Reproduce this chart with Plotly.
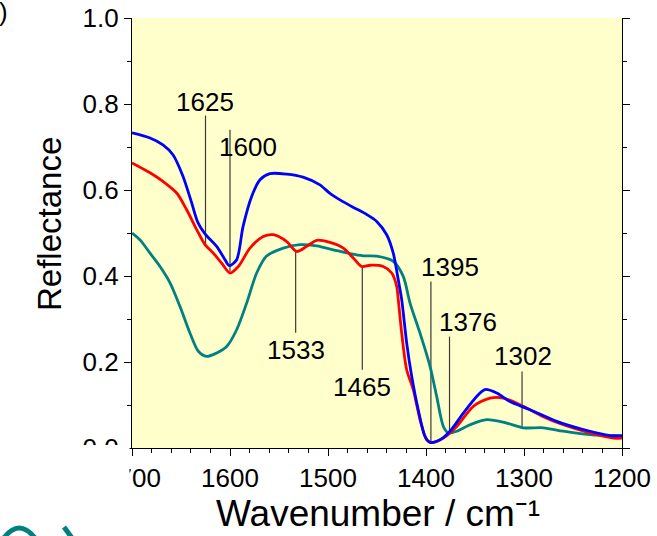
import plotly.graph_objects as go

# Reflectance spectra (wavenumber in cm^-1, reflectance 0-1)
wn_blue = [1700, 1681.6, 1668.4, 1658.2, 1648.0, 1639.1, 1632.7, 1625.5, 1613.6, 1605.1,
           1600.7, 1593.2, 1586.7, 1577.9, 1569.4, 1559.2, 1542.1, 1525.5, 1508.2, 1498.0,
           1487.8, 1474.5, 1460.5, 1450.3, 1440.1, 1433.4, 1428.3, 1424.8, 1419.7, 1414.6,
           1407.9, 1401.0, 1395.9, 1385.7, 1375.5, 1361.9, 1348.3, 1339.8, 1327.9, 1314.3,
           1293.9, 1266.6, 1239.5, 1212.2, 1200]
r_blue = [0.733, 0.721, 0.705, 0.682, 0.632, 0.570, 0.524, 0.498, 0.469, 0.438,
          0.424, 0.438, 0.515, 0.585, 0.624, 0.638, 0.637, 0.630, 0.612, 0.592,
          0.577, 0.560, 0.543, 0.527, 0.496, 0.453, 0.391, 0.345, 0.244, 0.167,
          0.089, 0.027, 0.013, 0.019, 0.039, 0.081, 0.120, 0.136, 0.128, 0.108,
          0.089, 0.062, 0.043, 0.029, 0.029]

wn_red = [1700, 1681.6, 1668.4, 1654.4, 1644.2, 1634.0, 1625.5, 1617.0, 1608.5, 1600.0,
          1591.5, 1579.6, 1566.0, 1555.8, 1542.1, 1532.0, 1521.7, 1511.5, 1498.0, 1484.4,
          1474.2, 1465.6, 1457.1, 1443.6, 1435.0, 1429.9, 1428.3, 1424.8, 1419.7, 1413.0,
          1406.1, 1399.3, 1394.2, 1382.3, 1368.7, 1351.7, 1334.7, 1321.1, 1300.7, 1280.3,
          1259.9, 1232.7, 1208.9, 1200]
r_red = [0.663, 0.640, 0.620, 0.593, 0.554, 0.508, 0.473, 0.453, 0.430, 0.407,
         0.422, 0.465, 0.492, 0.496, 0.480, 0.457, 0.469, 0.483, 0.478, 0.465,
         0.442, 0.422, 0.425, 0.422, 0.407, 0.376, 0.345, 0.267, 0.182, 0.136,
         0.066, 0.019, 0.013, 0.023, 0.050, 0.097, 0.116, 0.116, 0.097, 0.073,
         0.054, 0.035, 0.023, 0.023]

wn_teal = [1700, 1691.8, 1681.6, 1671.4, 1661.2, 1651.0, 1640.8, 1632.3, 1623.8, 1613.6,
           1603.4, 1593.2, 1583.0, 1572.8, 1562.9, 1545.6, 1528.6, 1511.5, 1494.6, 1477.6,
           1464.0, 1450.3, 1433.4, 1423.2, 1416.3, 1406.1, 1395.9, 1389.1, 1382.3, 1377.2,
           1368.7, 1355.1, 1338.1, 1317.7, 1300.7, 1280.3, 1259.9, 1232.7, 1200]
r_teal = [0.500, 0.484, 0.453, 0.422, 0.384, 0.329, 0.267, 0.225, 0.213, 0.221,
          0.236, 0.275, 0.337, 0.407, 0.446, 0.465, 0.473, 0.470, 0.461, 0.452,
          0.447, 0.446, 0.434, 0.399, 0.337, 0.267, 0.190, 0.120, 0.050, 0.035,
          0.039, 0.054, 0.066, 0.058, 0.047, 0.047, 0.039, 0.031, 0.027]

# Band assignments: label, text position (wn, R), leader line (R top, R bottom)
band_labels = ["1625", "1600", "1533", "1465", "1395", "1376", "1302"]
band_wn = [1625, 1600, 1533, 1465, 1395, 1376, 1302]
text_wn = [1625.5, 1581.6, 1533, 1465, 1375.5, 1357.1, 1301]
text_r = [0.805, 0.701, 0.229, 0.143, 0.422, 0.292, 0.213]
line_top = [0.773, 0.740, 0.457, 0.422, 0.387, 0.259, 0.178]
line_bot = [0.469, 0.411, 0.268, 0.182, 0.015, 0.036, 0.047]

x_ticks = [1700, 1600, 1500, 1400, 1300, 1200]
y_ticks = [0.0, 0.2, 0.4, 0.6, 0.8, 1.0]

W, H = 657, 536
L, R, T, B = 132, 35, 18, 88
PW, PH = W - L - R, H - T - B
FONT = "Liberation Sans, Arial, sans-serif"


def px(x):
    return (x - L) / PW


def py(y):
    return (H - B - y) / PH


fig = go.Figure()
for xs, ys, col in [(wn_teal, r_teal, "#008080"),
                    (wn_red, r_red, "#ff0000"),
                    (wn_blue, r_blue, "#0000ff")]:
    fig.add_trace(go.Scatter(x=xs, y=ys, mode="lines",
                             line=dict(color=col, width=2.8, shape="spline", smoothing=0.8),
                             showlegend=False, hoverinfo="skip"))

# Band pointer lines (drawn beneath the spectra)
for wn, y0, y1 in zip(band_wn, line_top, line_bot):
    fig.add_shape(type="line", x0=wn, x1=wn, y0=y0, y1=y1, xref="x", yref="y",
                  line=dict(color="#3a3a3a", width=1.2), layer="below")

for lab, tx, ty in zip(band_labels, text_wn, text_r):
    fig.add_annotation(x=tx, y=ty, xref="x", yref="y", text=lab, showarrow=False,
                       font=dict(size=26, color="black", family=FONT),
                       xanchor="center", yanchor="middle")

# Axis titles
fig.add_annotation(x=px(49), y=py(224), xref="paper", yref="paper", text="Reflectance",
                   textangle=-90, showarrow=False, xanchor="center", yanchor="middle",
                   font=dict(size=33, color="black", family=FONT))
fig.add_annotation(x=px(378), y=py(513), xref="paper", yref="paper",
                   text="Wavenumber / cm\u207b\u00b9", showarrow=False,
                   xanchor="center", yanchor="middle",
                   font=dict(size=37, color="black", family=FONT))

# Panel letter at the top-left corner
fig.add_annotation(x=px(10), y=py(12), xref="paper", yref="paper", text="(b)",
                   showarrow=False, xanchor="right", yanchor="middle",
                   font=dict(size=26, color="black", family=FONT))

# White block over the lower-left corner
fig.add_shape(type="rect", xref="paper", yref="paper", x0=px(-5), x1=px(129.5),
              y0=py(445), y1=py(497), fillcolor="white", line=dict(width=0), layer="above")

# Teal emblem fragment at the bottom-left edge
fig.add_shape(type="path", xref="paper", yref="paper",
              path=f"M {px(1)},{py(542)} Q {px(19)},{py(514)} {px(38)},{py(542)}",
              line=dict(color="#008080", width=5), layer="above")
fig.add_shape(type="line", xref="paper", yref="paper", x0=px(64), y0=py(527),
              x1=px(72), y1=py(538), line=dict(color="#008080", width=5), layer="above")

axis_common = dict(showgrid=False, zeroline=False, showline=True, linecolor="black",
                   linewidth=1.3, ticks="outside", tickcolor="black", tickwidth=1.3,
                   ticklen=7, tickfont=dict(size=26, color="black", family=FONT))

fig.update_xaxes(range=[1700, 1200], tickvals=x_ticks, mirror=False,
                 minor=dict(dtick=20, ticks="outside", ticklen=4, tickcolor="black", tickwidth=1.3),
                 **axis_common)
fig.update_yaxes(range=[0, 1], tickvals=y_ticks, tickformat=".1f", mirror="allticks",
                 minor=dict(dtick=0.1, ticks="outside", ticklen=4, tickcolor="black", tickwidth=1.3),
                 **axis_common)

fig.update_layout(width=W, height=H,
                  margin=dict(l=L, r=R, t=T, b=B, autoexpand=False),
                  paper_bgcolor="white", plot_bgcolor="#ffffcc",
                  font=dict(family=FONT, color="black"))

fig.write_html("out.html")
